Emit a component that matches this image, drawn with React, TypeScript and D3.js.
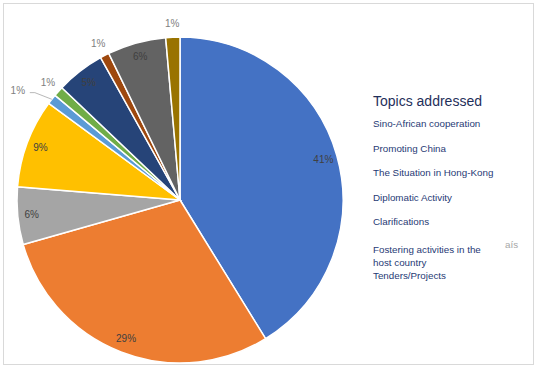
import React from "react";
import * as d3 from "d3";

const topics = [
  "Sino-African cooperation",
  "Promoting China",
  "The Situation in Hong-Kong",
  "Diplomatic Activity",
  "Clarifications",
  "Fostering activities in the host country",
  "Tenders/Projects",
  "Other 1",
  "Other 2",
  "Other 3",
];
const shares = [41.2, 29.4, 5.7, 8.8, 1.0, 1.0, 4.8, 0.9, 5.8, 1.4];
const colors = [
  "#4472C4", "#ED7D31", "#A5A5A5", "#FFC000", "#5B9BD5",
  "#70AD47", "#264478", "#9E480E", "#636363", "#997300",
];
// labels drawn outside the pie (small slices)
const outside = [false, false, false, false, true, true, false, true, false, true];

const legendLines = [
  "Sino-African cooperation",
  "Promoting China",
  "The Situation in Hong-Kong",
  "Diplomatic Activity",
  "Clarifications",
];
const legendWrapped = ["Fostering activities in the", "host country", "Tenders/Projects"];

const W = 537;
const H = 367;
const cx = 180;
const cy = 200;
const R = 163;
const font = "Liberation Sans, Arial, sans-serif";

export default function App() {
  const pie = d3
    .pie<number>()
    .sort(null)
    .startAngle(0)
    .endAngle(2 * Math.PI)
    .value((d) => d);
  const arcs = pie(shares);
  const arc = d3.arc<d3.PieArcDatum<number>>().innerRadius(0).outerRadius(R);
  const inLabel = d3.arc<d3.PieArcDatum<number>>().innerRadius(149).outerRadius(149);
  const outLabel = d3.arc<d3.PieArcDatum<number>>().innerRadius(177).outerRadius(177);
  const edge = d3.arc<d3.PieArcDatum<number>>().innerRadius(R).outerRadius(R);

  return (
    <svg
      width={W}
      height={H}
      style={{ position: "fixed", left: 0, top: 0, background: "#fff" }}
      fontFamily={font}
    >
      <rect x={3.5} y={3.5} width={530} height={361} fill="#fff" stroke="#D9D9D9" />
      <g transform={`translate(${cx},${cy})`}>
        {arcs.map((a, i) => (
          <path key={topics[i]} d={arc(a) ?? ""} fill={colors[i]} stroke="#fff" strokeWidth={1.5} />
        ))}
        {arcs.map((a, i) => {
          const label = `${Math.round(a.data)}%`;
          if (!outside[i]) {
            const [x, y] = inLabel.centroid(a);
            return (
              <text key={i} x={x} y={y} dy="0.35em" textAnchor="middle" fontSize={10} fill="#404040">
                {label}
              </text>
            );
          }
          const [x, y] = outLabel.centroid(a);
          if (i === 4) {
            // light blue slice: label pushed left with a leader line
            const [ex, ey] = edge.centroid(a);
            const lx = x - 23;
            return (
              <g key={i}>
                <polyline
                  points={`${ex},${ey} ${lx + 17},${y + 2} ${lx + 12},${y + 2}`}
                  fill="none"
                  stroke="#A6A6A6"
                  strokeWidth={0.8}
                />
                <text x={lx} y={y} dy="0.35em" textAnchor="middle" fontSize={10} fill="#808080">
                  {label}
                </text>
              </g>
            );
          }
          return (
            <text key={i} x={x} y={y} dy="0.35em" textAnchor="middle" fontSize={10} fill="#808080">
              {label}
            </text>
          );
        })}
      </g>
      <g fill="#1F3A75">
        <text x={373} y={106} fontSize={14} fill="#1F2F5A">
          Topics addressed
        </text>
        {legendLines.map((t, i) => (
          <text key={t} x={373} y={127 + i * 24.6} fontSize={9.8}>
            {t}
          </text>
        ))}
        {legendWrapped.map((t, i) => (
          <text key={t} x={373} y={253 + i * 13} fontSize={9.8}>
            {t}
          </text>
        ))}
      </g>
      <text x={505} y={248} fontSize={9.8} fill="#A6A6A6">
        aís
      </text>
    </svg>
  );
}
